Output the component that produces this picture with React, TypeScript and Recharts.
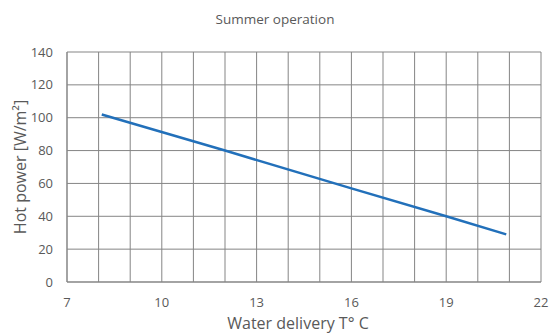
import React from "react";
import { LineChart, Line, XAxis, YAxis, CartesianGrid, Label } from "recharts";

// delivery temperature (°C) and heating power (W/m²)
const deliveryTemp = [8.1, 12, 16, 19, 20.9];
const hotPower = [102, 80, 57, 40, 29];

const xTicks = [7, 8, 9, 10, 11, 12, 13, 14, 15, 16, 17, 18, 19, 20, 21, 22];
const yTicks = [0, 20, 40, 60, 80, 100, 120, 140];

const data = deliveryTemp.map((t, i) => ({ t, power: hotPower[i] }));

const FONT = "'Open Sans', sans-serif";
const TEXT = "#595959";
const GRID = "#858585";

const App: React.FC = () => {
    return (
        <div style={{ position: "absolute", left: 0, top: 0, width: 550, height: 334, background: "#fff", fontFamily: FONT }}>
            <div
                style={{
                    position: "absolute",
                    top: 10,
                    width: 550,
                    textAlign: "center",
                    fontSize: 13.5,
                    color: TEXT,
                }}
            >
                Summer operation
            </div>
            <LineChart width={550} height={334} data={data} margin={{ top: 52, right: 9, bottom: 0, left: 0 }}>
                <CartesianGrid stroke={GRID} strokeWidth={1} />
                <XAxis
                    dataKey="t"
                    type="number"
                    domain={[7, 22]}
                    ticks={xTicks}
                    interval={0}
                    tickFormatter={(v: number) => ((v - 7) % 3 === 0 ? String(v) : "")}
                    tickLine={false}
                    axisLine={{ stroke: GRID }}
                    tick={{ fill: TEXT, fontSize: 13, fontFamily: FONT }}
                    tickMargin={10}
                    height={52}
                >
                    <Label
                        value="Water delivery T° C"
                        position="insideBottom"
                        offset={5}
                        dx={-6}
                        style={{ fill: TEXT, fontSize: 16, fontFamily: FONT }}
                    />
                </XAxis>
                <YAxis
                    type="number"
                    domain={[0, 140]}
                    ticks={yTicks}
                    interval={0}
                    tickLine={false}
                    axisLine={{ stroke: GRID }}
                    tick={{ fill: TEXT, fontSize: 13, fontFamily: FONT }}
                    tickMargin={8}
                    width={67}
                >
                    <Label
                        value="Hot power [W/m²]"
                        angle={-90}
                        position="insideLeft"
                        offset={20}
                        style={{ fill: TEXT, fontSize: 16, fontFamily: FONT, textAnchor: "middle" }}
                    />
                </YAxis>
                <Line
                    dataKey="power"
                    type="linear"
                    stroke="#2270BA"
                    strokeWidth={2.5}
                    dot={false}
                    isAnimationActive={false}
                />
            </LineChart>
        </div>
    );
};

export default App;
